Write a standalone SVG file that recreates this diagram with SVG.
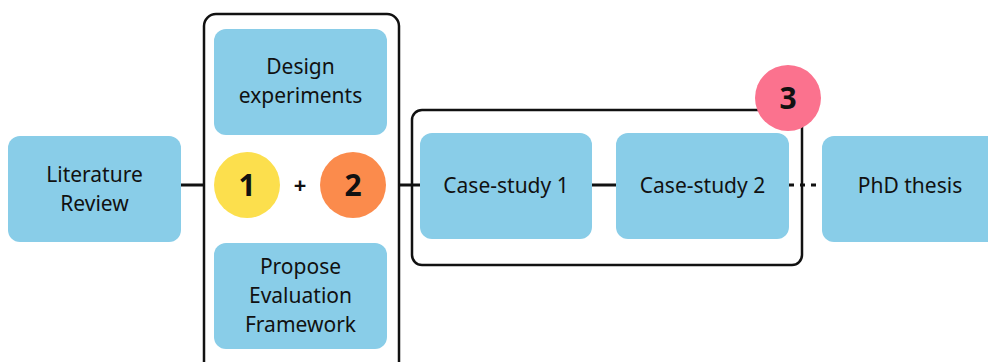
<svg xmlns="http://www.w3.org/2000/svg" width="988" height="362" viewBox="0 0 988 362">
<style>
.box{fill:#89CDE8;}
.frame{fill:none;stroke:#111;stroke-width:2.5;}
.lbl{font-family:"Noto Sans","Liberation Sans",sans-serif;font-size:21px;fill:#111;text-anchor:middle;}
.num{font-family:"Noto Sans","Liberation Sans",sans-serif;font-size:30px;font-weight:bold;fill:#111;text-anchor:middle;}
.edge{stroke:#111;stroke-width:3;fill:none;}
</style>
<rect width="988" height="362" fill="#fff"/>
<g id="connectors">
<line class="edge" x1="181" y1="185" x2="204" y2="185"/>
<line class="edge" x1="399" y1="185" x2="420" y2="185"/>
<line class="edge" x1="592" y1="185" x2="616" y2="185"/>
<line class="edge" x1="789" y1="185" x2="822" y2="185" stroke-dasharray="5 6"/>
</g>
<g id="group12">
<rect class="frame" x="204" y="14" width="195" height="370" rx="12"/>
</g>
<g id="group3">
<rect class="frame" x="412" y="110" width="390" height="155" rx="10"/>
</g>
<g id="literature">
<rect class="box" x="8" y="136" width="173" height="106" rx="12"/>
<text class="lbl" x="94.5" y="182">Literature</text>
<text class="lbl" x="94.5" y="211">Review</text>
</g>
<g id="design">
<rect class="box" x="214" y="29" width="173" height="106" rx="12"/>
<text class="lbl" x="300.5" y="74">Design</text>
<text class="lbl" x="300.5" y="103">experiments</text>
</g>
<g id="circle1">
<circle cx="247" cy="185" r="33" fill="#FCDF4D"/>
<text class="num" x="247" y="196">1</text>
</g>
<g id="plus">
<text class="num" x="300" y="193" style="font-size:22px">+</text>
</g>
<g id="circle2">
<circle cx="353" cy="185" r="33" fill="#FB8B4C"/>
<text class="num" x="353" y="196">2</text>
</g>
<g id="propose">
<rect class="box" x="214" y="243" width="173" height="106" rx="12"/>
<text class="lbl" x="300.5" y="274">Propose</text>
<text class="lbl" x="300.5" y="303">Evaluation</text>
<text class="lbl" x="300.5" y="332">Framework</text>
</g>
<g id="case1">
<rect class="box" x="420" y="133" width="172" height="106" rx="12"/>
<text class="lbl" x="506" y="193">Case-study 1</text>
</g>
<g id="case2">
<rect class="box" x="616" y="133" width="173" height="106" rx="12"/>
<text class="lbl" x="702.5" y="193">Case-study 2</text>
</g>
<g id="circle3">
<circle cx="788" cy="98" r="33" fill="#FB728E"/>
<text class="num" x="788" y="109">3</text>
</g>
<g id="phd">
<rect class="box" x="822" y="136" width="180" height="106" rx="12"/>
<text class="lbl" x="910" y="193">PhD thesis</text>
</g>
</svg>
